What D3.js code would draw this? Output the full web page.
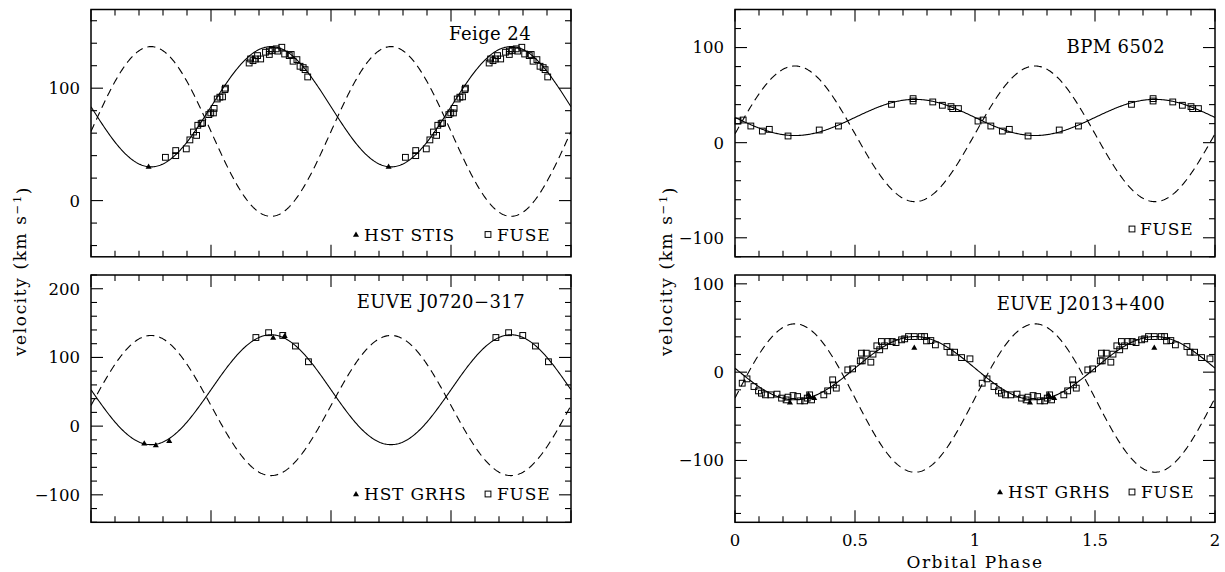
<!DOCTYPE html>
<html>
<head>
<meta charset="utf-8">
<script src="https://cdn.jsdelivr.net/npm/d3@7"></script>
<style>
  html, body { margin: 0; padding: 0; background: #fff; }
  svg text { font-family: "DejaVu Serif", "Liberation Serif", serif; fill: #000; }
</style>
</head>
<body>
<svg id="chart" width="1225" height="572"></svg>
<script>
// ---- axis ticks ----
const phaseMajor = [0, 0.5, 1, 1.5, 2];
const phaseLabels = ["0", "0.5", "1", "1.5", "2"];
const phaseMinorStep = 0.1;
const velMinorStep = 20;

// ---- Feige 24 ----
const feigeFuse = [
  [0.310, 38.5], [0.353, 40.0], [0.353, 44.5], [0.397, 46.0], [0.412, 54.0],
  [0.427, 61.0], [0.440, 58.0], [0.445, 67.0], [0.459, 68.5], [0.465, 69.0],
  [0.491, 76.5], [0.499, 78.0], [0.510, 78.0], [0.513, 82.0], [0.526, 90.4],
  [0.537, 92.0], [0.548, 92.3], [0.558, 98.7], [0.560, 100.0], [0.659, 122.4],
  [0.665, 126.0], [0.675, 124.5], [0.685, 126.0], [0.694, 129.0], [0.707, 126.0],
  [0.727, 132.0], [0.743, 130.0], [0.743, 133.0], [0.755, 133.6], [0.772, 135.0],
  [0.778, 133.0], [0.795, 136.4], [0.807, 130.4], [0.826, 129.0], [0.834, 130.0],
  [0.842, 124.0], [0.858, 125.4], [0.871, 119.5], [0.884, 118.3], [0.892, 116.5],
  [0.903, 110.0]
];
const feigeStis = [[0.240, 30.5]];
const feigeWD = { gamma: 83.5, K: 53.5 };
const feigeComp = { gamma: 61.5, K: 75.5 };

// ---- EUVE J0720-317 ----
const j0720Fuse = [[0.687, 129.0], [0.740, 136.0], [0.799, 132.0], [0.852, 116.6], [0.906, 93.7]];
const j0720Ghrs = [[0.222, -24.8], [0.270, -27.3], [0.326, -21.0], [0.759, 129.0], [0.807, 131.6]];
const j0720WD = { gamma: 53, K: 80 };
const j0720Comp = { gamma: 30, K: 102 };

// ---- BPM 6502 ----
const bpmFuse = [
  [0.0125, 22.7], [0.034, 23.8], [0.066, 17.5], [0.114, 12.2], [0.143, 14.0],
  [0.221, 7.0], [0.351, 13.3], [0.431, 17.5], [0.652, 40.3], [0.742, 46.3],
  [0.742, 43.8], [0.824, 42.8], [0.864, 39.3], [0.900, 37.9], [0.907, 35.8],
  [0.931, 35.8]
];
const bpmWD = { gamma: 26.5, K: 19 };
const bpmComp = { gamma: 9.3, K: 71.3 };

// ---- EUVE J2013+400 ----
const j2013Fuse = [
  [0.030, -12.5], [0.050, -7.6], [0.079, -16.3], [0.098, -21.2], [0.110, -23.8],
  [0.127, -25.7], [0.149, -25.7], [0.175, -24.9], [0.194, -29.4], [0.213, -31.4],
  [0.221, -28.3], [0.242, -26.5], [0.261, -27.6], [0.271, -32.5], [0.290, -32.5],
  [0.301, -29.4], [0.311, -25.7], [0.319, -31.4], [0.370, -25.7], [0.386, -21.2],
  [0.407, -8.7], [0.410, -14.4], [0.422, -18.1], [0.470, 2.6], [0.490, 3.7],
  [0.522, 12.8], [0.530, 12.8], [0.527, 21.5], [0.547, 21.5], [0.566, 11.3],
  [0.575, 20.4], [0.591, 29.8], [0.603, 25.3], [0.610, 34.7], [0.623, 29.8],
  [0.637, 34.7], [0.655, 34.7], [0.671, 33.5], [0.694, 36.6], [0.707, 37.7],
  [0.723, 40.3], [0.747, 40.3], [0.776, 40.3], [0.790, 40.3], [0.798, 35.4],
  [0.816, 35.8], [0.835, 30.9], [0.883, 29.0], [0.896, 22.6], [0.915, 22.6],
  [0.944, 16.5], [0.979, 15.1]
];
const j2013Ghrs = [[0.229, -34.0], [0.306, -24.9], [0.310, -27.6], [0.330, -28.8], [0.747, 27.9]];
const j2013WD = { gamma: 4.5, K: 35.8 };
const j2013Comp = { gamma: -29.3, K: 84 };

// ---- panel layout ----
const panels = [
  {
    title: "Feige 24", left: 91, top: 9.5, yDomain: [-50, 170], yMajor: [0, 100],
    wd: feigeWD, comp: feigeComp, showPhaseLabels: false,
    sets: [
      { data: feigeFuse, sym: "square", cycles: [0, 1] },
      { data: feigeStis, sym: "triangle", cycles: [0, 1] }
    ],
    titleRight: 40, titleY: 24,
    legendY: 225,
    legend: [{ sym: "triangle", text: "HST STIS" }, { sym: "square", text: "FUSE" }]
  },
  {
    title: "EUVE J0720\u2212317", left: 91, top: 275, yDomain: [-140, 220], yMajor: [-100, 0, 100, 200],
    wd: j0720WD, comp: j0720Comp, showPhaseLabels: false,
    sets: [
      { data: j0720Fuse, sym: "square", cycles: [0, 1] },
      { data: j0720Ghrs, sym: "triangle", cycles: [0] }
    ],
    titleRight: 46, titleY: 27,
    legendY: 219,
    legend: [{ sym: "triangle", text: "HST GRHS" }, { sym: "square", text: "FUSE" }]
  },
  {
    title: "BPM 6502", left: 735, top: 9.5, yDomain: [-120, 140], yMajor: [-100, 0, 100],
    wd: bpmWD, comp: bpmComp, showPhaseLabels: false,
    sets: [
      { data: bpmFuse, sym: "square", cycles: [0, 1] }
    ],
    titleRight: 50, titleY: 37.5,
    legendY: 219.5,
    legend: [{ sym: "square", text: "FUSE" }]
  },
  {
    title: "EUVE J2013+400", left: 735, top: 275, yDomain: [-170, 110], yMajor: [-100, 0, 100],
    wd: j2013WD, comp: j2013Comp, showPhaseLabels: true,
    sets: [
      { data: j2013Fuse, sym: "square", cycles: [0, 1] },
      { data: j2013Ghrs, sym: "triangle", cycles: [0, 1] }
    ],
    titleRight: 50, titleY: 29,
    legendY: 217,
    legend: [{ sym: "triangle", text: "HST GRHS" }, { sym: "square", text: "FUSE" }]
  }
];

const W = 480, H = 247.3;
const FONT = 16.5;
const MAJOR = 12, MINOR = 6;
const SQ = 5.8;
const triPath = d3.symbol().type(d3.symbolTriangle).size(16)();

const svg = d3.select("#chart");
svg.append("rect").attr("width", 1225).attr("height", 572).attr("fill", "#fff");

function drawSymbol(g, sym, cx, cy) {
  if (sym === "square") {
    g.append("rect")
      .attr("x", cx - SQ / 2).attr("y", cy - SQ / 2)
      .attr("width", SQ).attr("height", SQ)
      .attr("fill", "none").attr("stroke", "#000").attr("stroke-width", 1);
  } else {
    g.append("path").attr("d", triPath)
      .attr("transform", `translate(${cx},${cy + 0.6})`)
      .attr("fill", "#000");
  }
}

panels.forEach(p => {
  const g = svg.append("g").attr("transform", `translate(${p.left},${p.top})`);
  const x = d3.scaleLinear().domain([0, 2]).range([0, W]);
  const y = d3.scaleLinear().domain(p.yDomain).range([H, 0]);

  const clipId = "clip" + p.left + "_" + Math.round(p.top);
  g.append("clipPath").attr("id", clipId)
    .append("rect").attr("width", W).attr("height", H);

  // orbital fits: white dwarf (solid) and companion (dashed)
  const phases = d3.range(0, 2.0001, 0.004);
  const wdLine = d3.line()
    .x(ph => x(ph))
    .y(ph => y(p.wd.gamma - p.wd.K * Math.sin(2 * Math.PI * ph)));
  const compLine = d3.line()
    .x(ph => x(ph))
    .y(ph => y(p.comp.gamma + p.comp.K * Math.sin(2 * Math.PI * ph)));
  const curves = g.append("g").attr("clip-path", `url(#${clipId})`);
  curves.append("path").attr("d", compLine(phases))
    .attr("fill", "none").attr("stroke", "#000").attr("stroke-width", 1.1)
    .attr("stroke-dasharray", "8,5");
  curves.append("path").attr("d", wdLine(phases))
    .attr("fill", "none").attr("stroke", "#000").attr("stroke-width", 1.1);

  // measured velocities, folded over two cycles
  const pts = g.append("g");
  p.sets.forEach(s => {
    s.cycles.forEach(c => {
      s.data.forEach(([ph, v]) => drawSymbol(pts, s.sym, x(ph + c), y(v)));
    });
  });

  // ticks on all four sides
  const minorX = d3.range(0, 2.0001, phaseMinorStep).filter(v => !phaseMajor.some(m => Math.abs(m - v) < 1e-6));
  const [y0, y1] = p.yDomain;
  const minorY = d3.range(Math.ceil(y0 / velMinorStep) * velMinorStep, y1 + 0.001, velMinorStep)
    .filter(v => !p.yMajor.includes(v));
  const tk = g.append("g").attr("stroke", "#000").attr("stroke-width", 1.1);
  const xt = [...phaseMajor.map(v => [v, MAJOR]), ...minorX.map(v => [v, MINOR])];
  xt.forEach(([v, len]) => {
    tk.append("line").attr("x1", x(v)).attr("x2", x(v)).attr("y1", H).attr("y2", H - len);
    tk.append("line").attr("x1", x(v)).attr("x2", x(v)).attr("y1", 0).attr("y2", len);
  });
  const yt = [...p.yMajor.map(v => [v, MAJOR]), ...minorY.map(v => [v, MINOR])];
  yt.forEach(([v, len]) => {
    tk.append("line").attr("y1", y(v)).attr("y2", y(v)).attr("x1", 0).attr("x2", len);
    tk.append("line").attr("y1", y(v)).attr("y2", y(v)).attr("x1", W).attr("x2", W - len);
  });

  // frame
  g.append("rect").attr("width", W).attr("height", H)
    .attr("fill", "none").attr("stroke", "#000").attr("stroke-width", 1.5);

  // y tick labels
  p.yMajor.forEach(v => {
    g.append("text").attr("x", -11).attr("y", y(v)).attr("dy", "0.36em")
      .attr("text-anchor", "end").attr("font-size", FONT)
      .text(v < 0 ? "\u2212" + Math.abs(v) : String(v));
  });

  // phase labels
  if (p.showPhaseLabels) {
    phaseMajor.forEach((v, i) => {
      g.append("text").attr("x", x(v)).attr("y", H + 24)
        .attr("text-anchor", "middle").attr("font-size", FONT).text(phaseLabels[i]);
    });
    g.append("text").attr("x", W / 2).attr("y", H + 45.5)
      .attr("text-anchor", "middle").attr("font-size", 17)
      .attr("letter-spacing", 1.5).text("Orbital Phase");
  }

  // object name
  g.append("text").attr("x", W - p.titleRight).attr("y", p.titleY).attr("dy", "0.36em")
    .attr("text-anchor", "end").attr("font-size", 18).attr("letter-spacing", 0.4)
    .text(p.title);

  // legend
  const lg = g.append("g");
  const items = p.legend.length === 2
    ? [{ ...p.legend[0], sx: W - 215, tx: W - 207 }, { ...p.legend[1], sx: W - 83, tx: W - 74 }]
    : [{ ...p.legend[0], sx: W - 83, tx: W - 75 }];
  items.forEach(it => {
    drawSymbol(lg, it.sym, it.sx, p.legendY);
    lg.append("text").attr("x", it.tx).attr("y", p.legendY).attr("dy", "0.36em")
      .attr("font-size", 17).attr("letter-spacing", 0.8).text(it.text);
  });
});

// shared velocity axis titles
[{ cx: 20, cy: 271 }, { cx: 666, cy: 271 }].forEach(a => {
  const t = svg.append("text")
    .attr("transform", `translate(${a.cx},${a.cy}) rotate(-90)`)
    .attr("text-anchor", "middle").attr("dy", "0.36em").attr("font-size", 17)
    .attr("letter-spacing", 1.6);
  t.append("tspan").text("velocity (km s");
  t.append("tspan").attr("dy", "-0.45em").attr("font-size", 17 * 0.68).text("\u22121");
  t.append("tspan").attr("dy", "0.45em").text(")");
});
</script>
</body>
</html>
